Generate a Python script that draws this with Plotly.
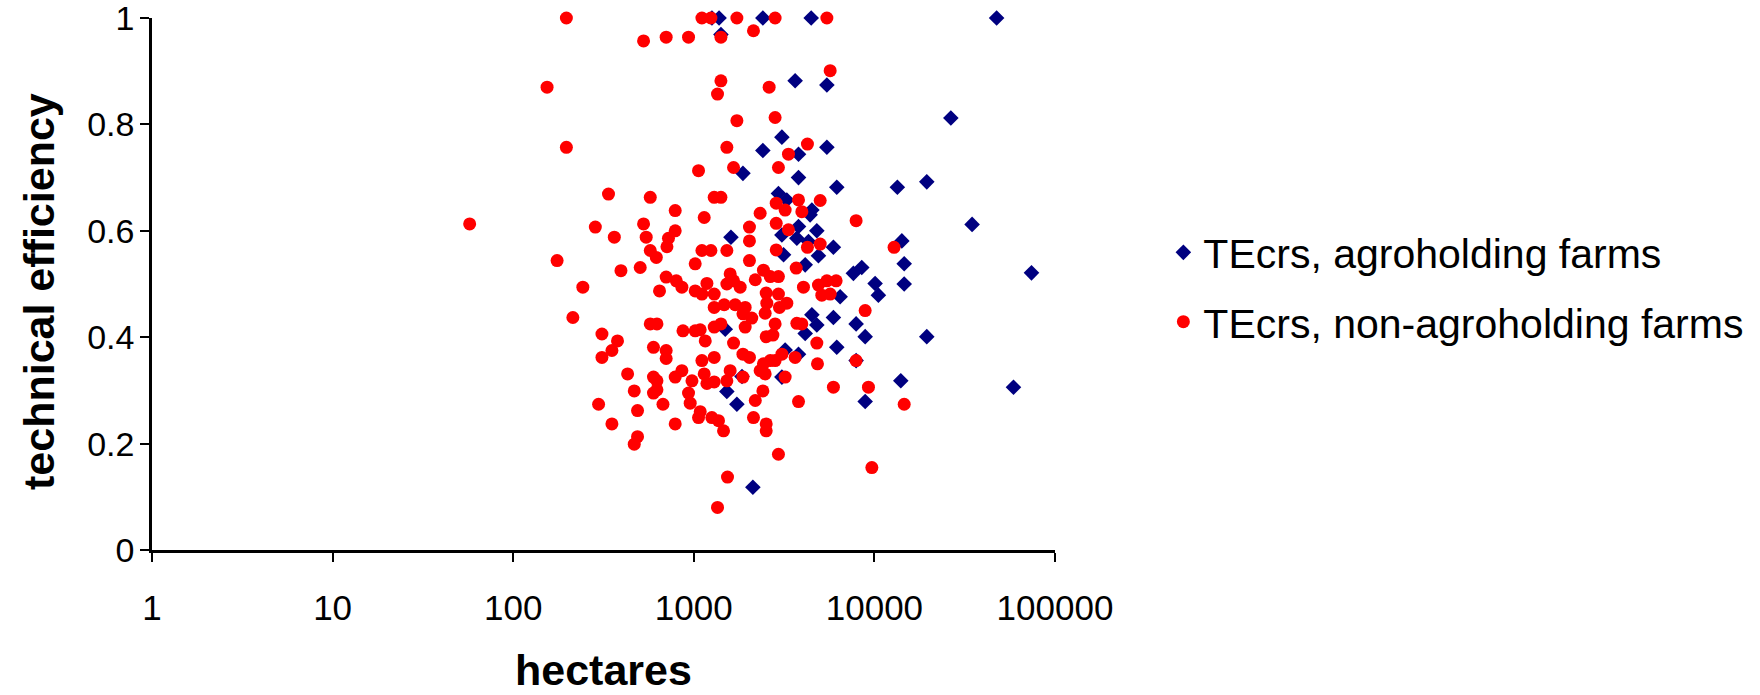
import plotly.graph_objects as go

# ---- data (hectares, technical efficiency) ----
agro_ha = [1260, 1380, 1413, 1871,
           2412, 4466, 3640, 5455, 26500, 3075, 2412, 3800, 5455,
           3800, 6190, 13400, 19500, 2942, 3274, 4507, 4406, 3800, 4800, 3075, 3720,
           4315, 5930, 3140, 4900, 4138, 14190, 14620, 14620, 7650, 8510, 10090,
           10520, 6460, 5930, 4507, 4800, 4138, 7920, 8890, 19500,
           1606, 1493,
           1524, 1732, 1849, 2124,
           3205, 3800, 6190, 7920, 3075, 14000, 8890,
           47500, 34750, 74100, 58900]
agro_te = [1.0, 1.0, 0.969, 0.708,
           1.0, 1.0, 0.882, 0.874, 0.812, 0.776, 0.751, 0.744, 0.757,
           0.700, 0.682, 0.682, 0.692, 0.670, 0.658, 0.639, 0.630, 0.608, 0.600, 0.592, 0.586,
           0.580, 0.569, 0.555, 0.553, 0.536, 0.581, 0.538, 0.500, 0.520, 0.531, 0.501,
           0.479, 0.476, 0.437, 0.442, 0.423, 0.407, 0.425, 0.401, 0.401,
           0.588, 0.415,
           0.298, 0.274, 0.326, 0.118,
           0.376, 0.368, 0.381, 0.356, 0.325, 0.318, 0.279,
           1.0, 0.612, 0.521, 0.306]

non_ha = [57.4, 154, 175,
          197, 527, 703, 935, 1109, 1244, 1732, 2140, 1413, 1413, 1353, 1732, 197, 1524, 1062, 1660,
          2820, 5455, 5690, 2613, 2820, 4258, 3343, 2942,
          5010, 7920, 12850, 8890, 3800, 2860, 2330, 3205, 3965, 2860, 3343, 2860, 4258, 5010,
          3690, 2430, 2190, 2650, 2942, 2517, 2942, 4047, 4900, 5455, 6140, 5115, 5690, 2537,
          3274, 2980, 2484, 2820, 3720, 3965, 2517, 2742, 4800,
          337, 574, 1297, 1413, 789, 1142, 285, 527, 789, 2033, 363, 545, 724, 710, 2033, 574,
          620, 1109, 1244, 1524, 2033, 1018, 505, 395, 243, 703, 800, 859, 646, 1182, 1018, 1109,
          1297, 1590, 1660, 1524, 1806, 1297, 1473, 1695, 1925, 1871, 2094, 214, 574, 625, 871,
          1018, 1085, 1297, 1413, 1925, 310, 378, 1157, 1660,
          310, 352, 598, 703, 703, 1109, 1297, 1871, 2033, 430, 598, 625, 789, 859, 977, 1142,
          1182, 1297, 1524, 1590, 1871, 468, 598, 625, 935, 955, 297, 675, 488, 1085, 1062, 1259,
          1370, 1461, 352, 789, 488, 468, 2140, 2190, 1537, 1353,
          3075, 2430, 2650, 2820, 2330, 2484, 3640, 4840, 7920, 3205, 5930, 9270, 2412, 3800,
          14620, 2517, 2517, 2942, 9680]
non_te = [0.613, 0.870, 0.544,
          1.0, 0.957, 0.964, 0.964, 1.0, 1.0, 1.0, 0.976, 0.964, 0.882, 0.857, 0.807, 0.757, 0.757, 0.713, 0.719,
          1.0, 1.0, 0.901, 0.870, 0.813, 0.763, 0.744, 0.719,
          0.657, 0.619, 0.569, 0.450, 0.658, 0.652, 0.633, 0.639, 0.636, 0.614, 0.602, 0.564, 0.569, 0.575,
          0.530, 0.526, 0.508, 0.514, 0.514, 0.483, 0.481, 0.494, 0.498, 0.506, 0.506, 0.479, 0.481, 0.464,
          0.464, 0.456, 0.445, 0.425, 0.426, 0.425, 0.401, 0.404, 0.389,
          0.669, 0.663, 0.663, 0.663, 0.638, 0.625, 0.607, 0.613, 0.600, 0.607, 0.588, 0.588, 0.586, 0.570, 0.581, 0.563,
          0.550, 0.563, 0.563, 0.563, 0.544, 0.538, 0.531, 0.525, 0.494, 0.513, 0.506, 0.494, 0.487, 0.501, 0.487, 0.481,
          0.481, 0.519, 0.506, 0.500, 0.494, 0.456, 0.461, 0.461, 0.456, 0.444, 0.436, 0.437, 0.425, 0.425, 0.412,
          0.412, 0.414, 0.419, 0.425, 0.419, 0.406, 0.393, 0.393, 0.389,
          0.362, 0.375, 0.381, 0.375, 0.360, 0.356, 0.362, 0.368, 0.362, 0.331, 0.325, 0.318, 0.325, 0.337, 0.318, 0.331,
          0.313, 0.316, 0.318, 0.337, 0.325, 0.299, 0.295, 0.301, 0.295, 0.276, 0.274, 0.274, 0.262, 0.260, 0.249, 0.249,
          0.243, 0.224, 0.237, 0.237, 0.213, 0.199, 0.249, 0.281, 0.137, 0.080,
          0.368, 0.350, 0.356, 0.356, 0.337, 0.331, 0.362, 0.350, 0.356, 0.325, 0.306, 0.306, 0.299, 0.279,
          0.274, 0.237, 0.224, 0.180, 0.155]

x_tickvals = [1, 10, 100, 1000, 10000, 100000]
x_ticktext = ["1", "10", "100", "1000", "10000", "100000"]
y_tickvals = [0, 0.2, 0.4, 0.6, 0.8, 1]
y_ticktext = ["0", "0.2", "0.4", "0.6", "0.8", "1"]
x_title = "hectares"
y_title = "technical efficiency"

FONT = "Liberation Sans, Arial, sans-serif"

fig = go.Figure()
fig.add_trace(go.Scatter(
    x=agro_ha, y=agro_te, mode="markers", name="TEcrs, agroholding farms",
    legendgroup="a",
    marker=dict(symbol="diamond", size=12, color="#000080", line=dict(width=0)),
    cliponaxis=False,
))
fig.add_trace(go.Scatter(
    x=non_ha, y=non_te, mode="markers", name="TEcrs, non-agroholding farms",
    legendgroup="b",
    marker=dict(symbol="circle", size=13, color="#FF0000", line=dict(width=0)),
    cliponaxis=False,
))

fig.update_layout(
    width=1760, height=695,
    margin=dict(l=152, r=705, t=18, b=145, autoexpand=False),
    plot_bgcolor="white", paper_bgcolor="white",
    font=dict(family=FONT, color="black"),
    showlegend=True,
    legend=dict(
        x=1.12, y=0.494, xanchor="left", yanchor="middle",
        font=dict(size=41, family=FONT, color="black"),
        traceorder="grouped", tracegroupgap=13,
        itemsizing="trace", bgcolor="rgba(0,0,0,0)",
    ),
    annotations=[
        dict(text="<b>%s</b>" % x_title, xref="paper", yref="paper", x=0.5, y=0,
             xanchor="center", yanchor="middle", yshift=-120, showarrow=False,
             font=dict(size=43, family=FONT, color="black")),
        dict(text="<b>%s</b>" % y_title, xref="paper", yref="paper", x=0, y=0.5,
             xanchor="center", yanchor="middle", xshift=-113, yshift=-8,
             textangle=-90, showarrow=False,
             font=dict(size=43, family=FONT, color="black")),
    ],
)
fig.update_xaxes(
    type="log", range=[0, 5], automargin=False,
    tickvals=x_tickvals, ticktext=x_ticktext,
    showgrid=False, zeroline=False,
    showline=True, linecolor="black", linewidth=2.5,
    ticks="outside", ticklen=9, tickwidth=2, tickcolor="black",
    tickfont=dict(size=35, family=FONT),
    ticklabelstandoff=16, ticklabeloverflow="allow",
)
fig.update_yaxes(
    range=[0, 1], automargin=False,
    tickvals=y_tickvals, ticktext=y_ticktext,
    showgrid=False, zeroline=False,
    showline=True, linecolor="black", linewidth=2.5,
    ticks="outside", ticklen=9, tickwidth=2, tickcolor="black",
    tickfont=dict(size=34, family=FONT),
    ticklabelstandoff=-1, ticklabeloverflow="allow",
)

# remove the default 8px page margin so the figure fills the window exactly
fig.write_html("out.html",
               config={"displayModeBar": False},
               post_script="document.body.style.margin='0';document.body.style.overflow='hidden';")
